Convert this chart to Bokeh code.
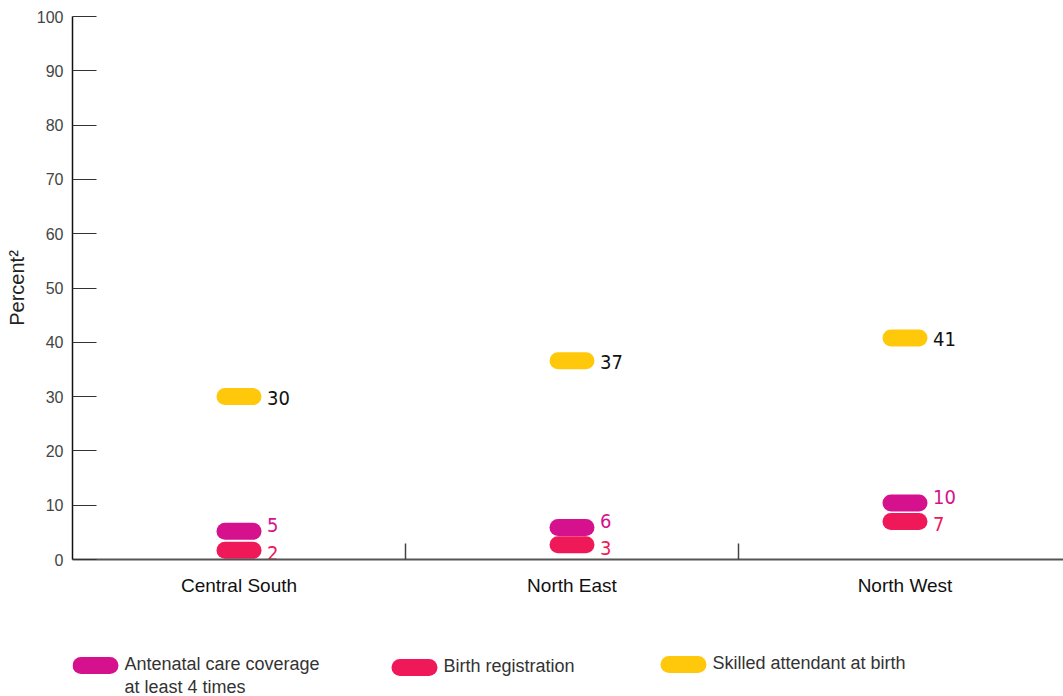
from bokeh.plotting import figure
from bokeh.models import Range1d, FixedTicker, ColumnDataSource, Column
from bokeh.core.properties import value
from bokeh.embed import file_html
from bokeh.resources import INLINE

categories = ["Central South", "North East", "North West"]
antenatal = [5.2, 5.9, 10.4]
birth_reg = [1.7, 2.7, 7.0]
skilled = [30.0, 36.6, 40.8]
y_ticks = [0, 10, 20, 30, 40, 50, 60, 70, 80, 90, 100]
series_names = ["Antenatal care coverage\nat least 4 times", "Birth registration", "Skilled attendant at birth"]
colors = ["#D5118D", "#EF1858", "#FFC80A"]
label_colors = ["#D5118D", "#EF1858", "#111111"]

LABEL_FONT = value("DejaVu Sans Condensed")
BASE_FONT = "Liberation Sans"

W = 1063
LEFT = 72
p = figure(width=W, height=609, output_backend="svg", toolbar_location=None,
           x_range=Range1d(0, 2.976), y_range=Range1d(0, 100),
           min_border_left=LEFT, min_border_right=0, min_border_top=16, min_border_bottom=50)
p.outline_line_color = None
p.grid.visible = False
p.background_fill_color = "white"

xc = [i + 0.5 for i in range(len(categories))]

series = [antenatal, birth_reg, skilled]
y_offsets = [-6, 3, 1]
for vals, col, lcol, yo in zip(series, colors, label_colors, y_offsets):
    src = ColumnDataSource(dict(x=xc, y=vals, lab=[str(int(round(v))) for v in vals]))
    p.rect(x="x", y="y", width=45, height=17, width_units="screen", height_units="screen",
           fill_color=col, line_color=None, border_radius=9, source=src)
    p.text(x="x", y="y", text="lab", x_offset=28, y_offset=yo, text_baseline="middle",
           text_align="left", text_color=lcol, text_font=LABEL_FONT, text_font_size="20px",
           source=src)

# y axis
ya = p.yaxis[0]
ya.ticker = FixedTicker(ticks=y_ticks)
ya.axis_label = "Percent²"
ya.axis_label_text_font = BASE_FONT
ya.axis_label_text_font_style = "normal"
ya.axis_label_text_font_size = "20px"
ya.axis_label_text_color = "#222222"
ya.axis_label_standoff = 6
ya.major_tick_in = 24
ya.major_tick_out = 0
ya.minor_tick_line_color = None
ya.major_tick_line_color = "#333333"
ya.major_tick_line_width = 1.2
ya.axis_line_color = "#111111"
ya.axis_line_width = 1.5
ya.major_label_text_font = BASE_FONT
ya.major_label_text_font_size = "16px"
ya.major_label_text_color = "#444444"
ya.major_label_standoff = 9

# x axis
xa = p.xaxis[0]
xa.ticker = FixedTicker(ticks=xc, minor_ticks=[1, 2])
xa.major_label_overrides = {x: c for x, c in zip(xc, categories)}
xa.major_tick_line_color = None
xa.minor_tick_in = 16
xa.minor_tick_out = 0
xa.minor_tick_line_color = "#444444"
xa.minor_tick_line_width = 1.5
xa.axis_line_color = "#555555"
xa.axis_line_width = 2
xa.major_label_text_font = BASE_FONT
xa.major_label_text_font_size = "19px"
xa.major_label_text_color = "#111111"
xa.major_label_standoff = 9

# legend figure (coordinates in page pixels)
LEG_TOP = 609
leg = figure(width=W, height=87, output_backend="svg", toolbar_location=None,
             x_range=Range1d(LEFT, W), y_range=Range1d(LEG_TOP + 87, LEG_TOP),
             min_border_left=LEFT, min_border_right=0, min_border_top=0, min_border_bottom=0)
leg.outline_line_color = None
leg.grid.visible = False
leg.axis.visible = False
leg_x = [95, 414, 683]
leg_y = [665, 667, 664]
leg.rect(x=leg_x, y=leg_y, width=46, height=17, width_units="screen", height_units="screen",
         fill_color=colors, line_color=None, border_radius=9)
leg.text(x=[lx + 29 for lx in leg_x], y=leg_y, text=series_names, y_offset=-12,
         text_baseline="top", text_align="left", text_color="#333333",
         text_font=value(BASE_FONT), text_font_size="18px", text_line_height=1.15)

layout = Column(p, leg, spacing=0)
open("out.html", "w").write(file_html(layout, INLINE))
